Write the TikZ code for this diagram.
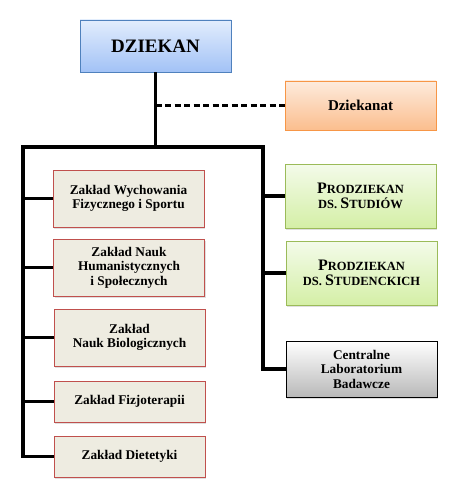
\documentclass[tikz,border=0pt]{standalone}
\usepackage{fontspec}
\setmainfont{Liberation Serif}
\usepackage{tikz}
\usetikzlibrary{shadows}
\usepackage{xcolor}
\definecolor{deanline}{HTML}{4F81BD}
\definecolor{deantop}{HTML}{E2EDFD}
\definecolor{deanbottom}{HTML}{A2C2F6}
\definecolor{officeline}{HTML}{F79646}
\definecolor{officetop}{HTML}{FDEBDD}
\definecolor{officebottom}{HTML}{FBBE8E}
\definecolor{viceline}{HTML}{9BBB59}
\definecolor{vicetop}{HTML}{F4FBEA}
\definecolor{vicebottom}{HTML}{D4EFA6}
\definecolor{unitline}{HTML}{C0504D}
\definecolor{unitfill}{HTML}{EEECE1}
\newcommand{\smc}[2]{{\fontsize{16}{18}\selectfont #1}{\fontsize{12.5}{18}\selectfont #2}}
\tikzset{%
	every box/.style={
		draw,
		line width=0.9pt,
		align=center,
		font=\bfseries\fontsize{13.3}{14.5}\selectfont,
		minimum width=151pt,
		inner sep=2pt,
		drop shadow={opacity=0.25, shadow xshift=1.2pt, shadow yshift=-1.5pt}
	},
	dean box/.style={
		every box,
		draw=deanline,
		top color=deantop,
		bottom color=deanbottom,
		minimum height=52pt,
		font=\bfseries\fontsize{19}{22}\selectfont
	},
	office box/.style={
		every box,
		draw=officeline,
		top color=officetop,
		bottom color=officebottom,
		minimum height=49pt,
		font=\bfseries\fontsize{15}{17}\selectfont
	},
	vice box/.style={
		every box,
		draw=viceline,
		top color=vicetop,
		bottom color=vicebottom,
		minimum height=64pt
	},
	lab box/.style={
		every box,
		draw=black,
		top color=white,
		bottom color=gray!55,
		minimum height=56pt
	},
	unit box/.style={
		every box,
		draw=unitline,
		fill=unitfill
	},
	tree line/.style={
		line width=3.2pt,
		line join=miter
	},
}

\begin{document}
\begin{tikzpicture}[x=1pt, y=-1pt]
	\useasboundingbox (0,0) rectangle (460,497);
	% top
	\node[dean box] (dean) at (155.5,46) {DZIEKAN};
	\node[office box] (office) at (360.5,105.5) {Dziekanat};
	% left column
	\node[unit box, minimum height=57pt] (sport) at (128.5,198.5) {Zakład Wychowania\\Fizycznego i Sportu};
	\node[unit box, minimum height=57pt] (human) at (129,267.5) {Zakład Nauk\\Humanistycznych\\i Społecznych};
	\node[unit box, minimum height=57pt] (bio) at (129.5,337.5) {Zakład\\Nauk Biologicznych};
	\node[unit box, minimum height=41pt] (physio) at (129.5,401.5) {Zakład Fizjoterapii};
	\node[unit box, minimum height=41pt] (diet) at (129.5,456.5) {Zakład Dietetyki};
	% right column
	\node[vice box] (vicestud) at (360.5,196) {\smc{P}{RODZIEKAN}\\\smc{}{DS.~}\smc{S}{TUDIÓW}};
	\node[vice box] (vicestu) at (361.5,273) {\smc{P}{RODZIEKAN}\\\smc{}{DS.~}\smc{S}{TUDENCKICH}};
	\node[lab box] (lab) at (361.5,369) {Centralne\\Laboratorium\\Badawcze};
	% connectors
	\coordinate (hub) at (155.5,147);
	\coordinate (lefttrunk) at (23,147);
	\coordinate (righttrunk) at (263,147);
	\draw[tree line] (dean.south) -- (hub);
	\draw[tree line] ([xshift=-1.6pt]lefttrunk) -- ([xshift=1.6pt]righttrunk);
	\draw[line width=2.2pt, dash pattern=on 6pt off 3.5pt] (dean.south |- office.west) -- (office.west);
	\draw[tree line] (lefttrunk) |- (diet.west);
	\draw[tree line] (righttrunk) |- (lab.west);
	\draw[tree line] (sport.west) -- (sport.west -| lefttrunk);
	\draw[tree line] (human.west) -- (human.west -| lefttrunk);
	\draw[tree line] (bio.west) -- (bio.west -| lefttrunk);
	\draw[tree line] (physio.west) -- (physio.west -| lefttrunk);
	\draw[tree line] (vicestud.west) -- (vicestud.west -| righttrunk);
	\draw[tree line] (vicestu.west) -- (vicestu.west -| righttrunk);
\end{tikzpicture}
\end{document}
